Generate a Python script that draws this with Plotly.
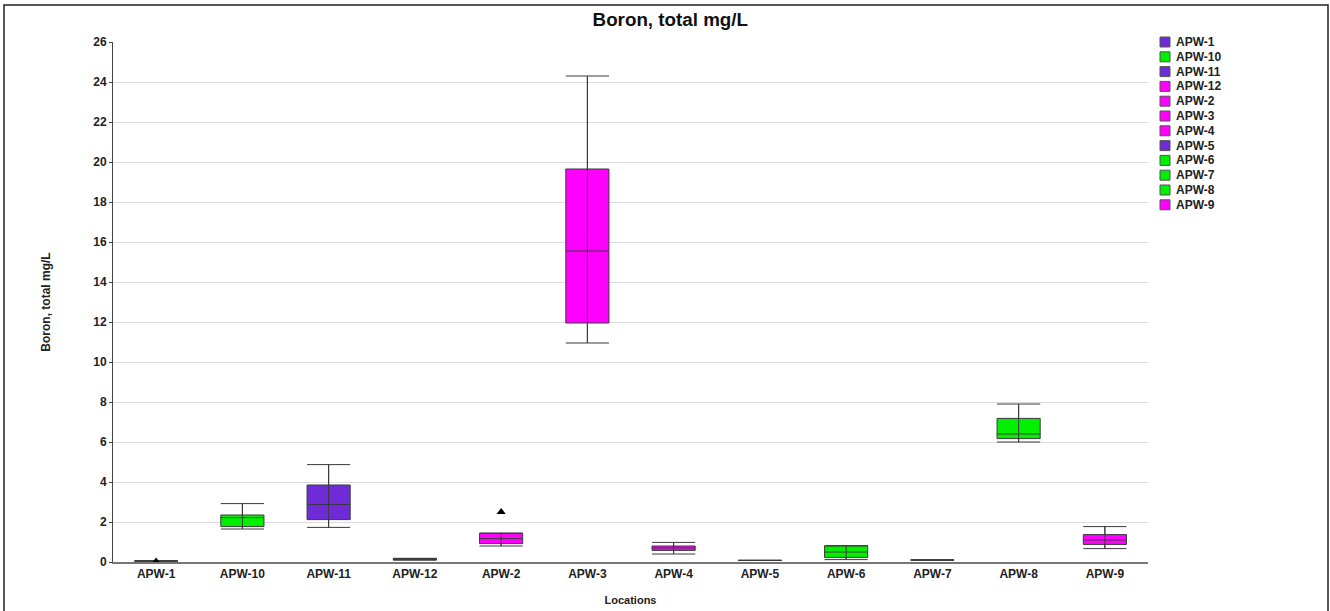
import plotly.graph_objects as go

categories = ["APW-1", "APW-10", "APW-11", "APW-12", "APW-2", "APW-3",
              "APW-4", "APW-5", "APW-6", "APW-7", "APW-8", "APW-9"]
lower_fence = [0.05, 1.65, 1.73, 0.10, 0.80, 10.95, 0.40, 0.08, 0.12, 0.10, 6.00, 0.67]
q1_vals     = [0.05, 1.77, 2.12, 0.10, 0.92, 11.95, 0.58, 0.08, 0.23, 0.10, 6.17, 0.88]
median_vals = [0.05, 2.22, 2.88, 0.14, 1.17, 15.55, 0.70, 0.08, 0.50, 0.10, 6.40, 1.10]
q3_vals     = [0.05, 2.35, 3.85, 0.18, 1.43, 19.65, 0.80, 0.08, 0.80, 0.10, 7.18, 1.37]
upper_fence = [0.05, 2.92, 4.87, 0.18, 1.45, 24.30, 0.98, 0.08, 0.82, 0.10, 7.90, 1.77]
group_colors = ["#6f2bd6", "#00f000", "#6f2bd6", "#ff00ff", "#ff00ff", "#ff00ff",
                "#ff00ff", "#6f2bd6", "#00f000", "#00f000", "#00f000", "#ff00ff"]
outlier_locs = ["APW-1", "APW-2"]
outlier_vals = [0.03, 2.5]

title_text = "Boron, total mg/L"
y_title = "Boron, total mg/L"
x_title = "Locations"
y_ticks = list(range(0, 27, 2))

W, H = 1330, 611
L, R, T, B = 113, 182, 42, 49
PW, PH = W - L - R, H - T - B

def px_x(p):
    return (p - L) / PW

def px_y(p):
    return (H - B - p) / PH

FONT = "Arial, Liberation Sans, sans-serif"
LINE = "#3a3a3a"

fig = go.Figure()

for i, cat in enumerate(categories):
    fig.add_trace(go.Box(
        x=[cat], q1=[q1_vals[i]], median=[median_vals[i]], q3=[q3_vals[i]],
        lowerfence=[lower_fence[i]], upperfence=[upper_fence[i]],
        name=cat, showlegend=False, width=0.5, whiskerwidth=1,
        fillcolor=group_colors[i], line=dict(color=LINE, width=1),
        boxpoints=False, hoverinfo="skip",
    ))

for i, cat in enumerate(categories):
    fig.add_trace(go.Scatter(
        x=[cat, cat], y=[lower_fence[i], upper_fence[i]], mode="lines",
        line=dict(color=LINE, width=1), showlegend=False, hoverinfo="skip",
    ))

fig.add_trace(go.Scatter(
    x=outlier_locs, y=outlier_vals, mode="markers",
    marker=dict(symbol="triangle-up", size=8, color="black"),
    showlegend=False, cliponaxis=False, hoverinfo="skip",
))

shapes = [dict(type="rect", xref="paper", yref="paper",
               x0=px_x(4), x1=px_x(1328), y0=px_y(625), y1=px_y(5),
               line=dict(color="#222", width=1.5), fillcolor="rgba(0,0,0,0)",
               layer="above")]
annotations = []
row_h = 14.8
for i, cat in enumerate(categories):
    cy = 42 + row_h * i
    shapes.append(dict(type="rect", xref="paper", yref="paper",
                       x0=px_x(1160), x1=px_x(1170), y0=px_y(cy + 5), y1=px_y(cy - 5),
                       fillcolor=group_colors[i], line=dict(color="#555", width=1)))
    annotations.append(dict(xref="paper", yref="paper", x=px_x(1174), y=px_y(cy),
                            xanchor="left", yanchor="middle", showarrow=False,
                            text=cat, font=dict(family=FONT, size=12, color="#222", weight="bold")))

fig.update_layout(
    width=W, height=H,
    margin=dict(l=L, r=R, t=T, b=B, pad=0, autoexpand=False),
    paper_bgcolor="white", plot_bgcolor="white",
    boxmode="overlay",
    showlegend=False,
    title=dict(text=title_text, x=0.504, xanchor="center", y=1 - 19 / H, yanchor="middle",
               font=dict(family=FONT, size=18.8, color="#111", weight="bold")),
    xaxis=dict(type="category", categoryorder="array", categoryarray=categories,
               automargin=False,
               showline=True, linecolor="#777", linewidth=1.5, showgrid=False,
               ticks="", tickfont=dict(family=FONT, size=12, color="#222", weight="bold"),
               title=dict(text=x_title, standoff=16,
                          font=dict(family=FONT, size=11, color="#222", weight="bold")),
               zeroline=False, range=[-0.5, len(categories) - 0.5]),
    yaxis=dict(range=[0, 26], tickvals=y_ticks, showline=True, linecolor="#444", linewidth=1,
               automargin=False,
               ticks="outside", ticklen=3, tickcolor="#444",
               showgrid=True, gridcolor="#dcdcdc", gridwidth=1, zeroline=False,
               tickfont=dict(family=FONT, size=12, color="#222", weight="bold"),
               title=dict(text=y_title, standoff=40,
                          font=dict(family=FONT, size=12, color="#222", weight="bold"))),
    shapes=shapes, annotations=annotations,
)

fig.write_html("out.html", config={"displayModeBar": False},
               post_script="document.body.style.margin='0';document.body.style.overflow='hidden';")
